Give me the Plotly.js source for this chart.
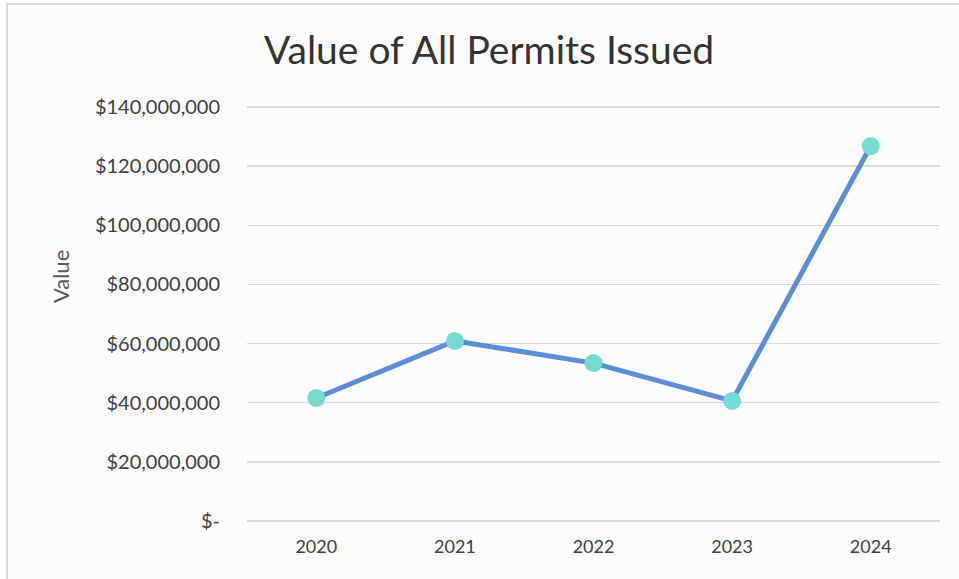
<!DOCTYPE html>
<html>
<head>
<meta charset="utf-8">
<script src="https://cdn.plot.ly/plotly-3.0.1.min.js"></script>
<style>
html,body{margin:0;padding:0;background:#ffffff;}
#chart{width:959px;height:579px;position:absolute;left:0;top:0;}
#frame{position:absolute;left:6px;top:3px;width:1000px;height:700px;border:2px solid #d9d9d9;pointer-events:none;}
</style>
</head>
<body>
<div id="chart"></div>
<div id="frame"></div>
<script>
const years = ["2020", "2021", "2022", "2023", "2024"];
const values = [41600000, 60900000, 53400000, 40600000, 126800000];
const yTickVals = [0, 20000000, 40000000, 60000000, 80000000, 100000000, 120000000, 140000000];
const yTickText = ["$-", "$20,000,000", "$40,000,000", "$60,000,000", "$80,000,000", "$100,000,000", "$120,000,000", "$140,000,000"];
const yAxisTitle = "Value";

const font = "Lato, 'Open Sans', 'DejaVu Sans', sans-serif";

const trace = {
  x: years,
  y: values,
  type: "scatter",
  mode: "lines+markers",
  line: {color: "#5a8fd8", width: 5},
  marker: {color: "#76dbd1", size: 18},
  hoverinfo: "x+y"
};

const layout = {
  width: 959,
  height: 579,
  paper_bgcolor: "#fcfcfc",
  plot_bgcolor: "#fcfcfc",
  margin: {l: 247, r: 19, t: 106, b: 57},
  showlegend: false,
  title: {
    text: "Value of All Permits Issued",
    font: {family: font, size: 39, color: "#333333"},
    x: 0.51, xanchor: "center",
    y: 0.913, yanchor: "middle"
  },
  xaxis: {
    type: "category",
    range: [-0.5, 4.5],
    showgrid: false,
    zeroline: false,
    showline: false,
    ticks: "",
    ticklabelstandoff: 12,
    tickfont: {family: font, size: 18, color: "#404040"}
  },
  yaxis: {
    range: [-350000, 140350000],
    tickvals: yTickVals,
    ticktext: yTickText,
    showgrid: true,
    gridcolor: "#d9d9d9",
    gridwidth: 1.5,
    zeroline: false,
    showline: false,
    ticks: "",
    ticklabelstandoff: 26,
    tickfont: {family: font, size: 20, color: "#404040"}
  },
  annotations: [{
    text: yAxisTitle,
    xref: "paper", yref: "paper",
    x: -0.270, y: 0.591,
    xanchor: "center", yanchor: "middle",
    textangle: -90,
    showarrow: false,
    font: {family: font, size: 22, color: "#595959"}
  }]
};

Plotly.newPlot("chart", [trace], layout, {displayModeBar: false, staticPlot: true});
</script>
</body>
</html>
